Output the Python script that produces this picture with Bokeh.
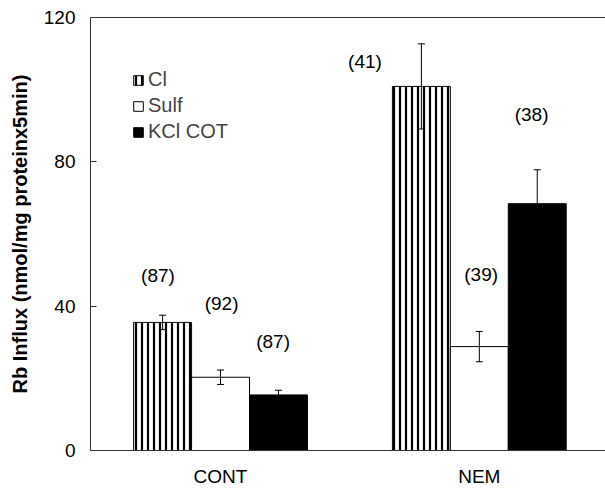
from bokeh.plotting import figure
from bokeh.models import (ColumnDataSource, Range1d, FixedTicker, LinearAxis, Whisker,
                          TeeHead, Legend, LegendItem)
from bokeh.core.properties import value
from bokeh.embed import file_html
from bokeh.resources import INLINE

# ---- data ----
groups = ["CONT", "NEM"]
series = ["Cl", "Sulf", "KCl COT"]
cl_vals = [35.5, 100.9]
cl_err = [2.0, 11.8]
sulf_vals = [20.3, 28.8]
sulf_err = [2.0, 4.2]
kcl_vals = [15.4, 68.4]
kcl_err = [1.3, 9.4]
n_labels = ["(87)", "(92)", "(87)", "(41)", "(39)", "(38)"]
y_ticks = [0, 40, 80, 120]

# ---- layout helpers (positions, not data) ----
group_centers = [0.505, 1.51]
offsets = [-0.225, 0.0, 0.225]
bar_w = 0.225
label_x = [0.262, 0.509, 0.709, 1.066, 1.517, 1.713]
label_y = [48.5, 40.7, 30.2, 107.7, 48.8, 93.1]

FONT = "Liberation Sans"
AX = "#333333"

p = figure(width=605, height=490, output_backend="svg", toolbar_location=None,
           x_range=Range1d(0, 2), y_range=Range1d(0, 120),
           min_border_left=90, min_border_right=0, min_border_top=17, min_border_bottom=40)
p.background_fill_color = "white"
p.border_fill_color = "white"
p.outline_line_color = None
p.grid.visible = False

styles = [
    dict(fill_color="white", hatch_pattern="vertical_line", hatch_color="black",
         hatch_scale=6, hatch_weight=2.2),
    dict(fill_color="white"),
    dict(fill_color="black"),
]
vals = [cl_vals, sulf_vals, kcl_vals]
errs = [cl_err, sulf_err, kcl_err]
renderers = []
for i, (v, e, st) in enumerate(zip(vals, errs, styles)):
    xs = [g + offsets[i] for g in group_centers]
    src = ColumnDataSource(dict(x=xs, top=v,
                                upper=[a + b for a, b in zip(v, e)],
                                lower=[a - b for a, b in zip(v, e)]))
    r = p.vbar(x="x", top="top", width=bar_w, source=src, line_color="black",
               line_width=1, **st)
    renderers.append(r)
    w = Whisker(base="x", upper="upper", lower="lower", source=src, level="overlay",
                line_color="black", line_width=1,
                upper_head=TeeHead(size=7, line_color="black", line_width=1),
                lower_head=TeeHead(size=7, line_color="black", line_width=1))
    p.add_layout(w)

p.text(x=label_x, y=label_y, text=n_labels, text_font=value(FONT),
       text_font_size="19px", text_align="center", text_baseline="middle",
       text_color="black")

legend = Legend(items=[LegendItem(label=s, renderers=[r]) for s, r in zip(series, renderers)],
                location=(42, 307), orientation="vertical",
                glyph_width=12, glyph_height=12, label_height=20, spacing=3,
                label_standoff=4, padding=0, margin=0,
                border_line_color=None, background_fill_alpha=0,
                label_text_font=FONT, label_text_font_size="20px")
p.add_layout(legend, "center")

# y axis
ya = p.yaxis[0]
ya.ticker = FixedTicker(ticks=y_ticks)
ya.major_tick_in = 6
ya.major_tick_out = 0
ya.minor_tick_line_color = None
ya.axis_line_color = AX
ya.major_tick_line_color = AX
ya.major_label_text_font = FONT
ya.major_label_text_font_size = "19px"
ya.major_label_text_color = "black"
ya.major_label_standoff = 15
ya.axis_label = "Rb Influx (nmol/mg proteinx5min)"
ya.axis_label_text_font = FONT
ya.axis_label_text_font_size = "20px"
ya.axis_label_text_font_style = "bold"
ya.axis_label_text_color = "black"
ya.axis_label_standoff = 10

# x axis
xa = p.xaxis[0]
xa.ticker = FixedTicker(ticks=group_centers)
xa.major_label_overrides = {group_centers[0]: groups[0], group_centers[1]: groups[1]}
xa.major_tick_in = 0
xa.major_tick_out = 0
xa.minor_tick_line_color = None
xa.axis_line_color = AX
xa.major_label_text_font = FONT
xa.major_label_text_font_size = "19px"
xa.major_label_text_color = "black"
xa.major_label_standoff = 15

# top frame line
top = LinearAxis(ticker=FixedTicker(ticks=[]), axis_line_color=AX,
                 major_tick_in=0, major_tick_out=0, minor_tick_line_color=None,
                 major_label_text_font_size="0px", major_label_standoff=0)
p.add_layout(top, "above")

open("out.html", "w").write(file_html(p, INLINE))
